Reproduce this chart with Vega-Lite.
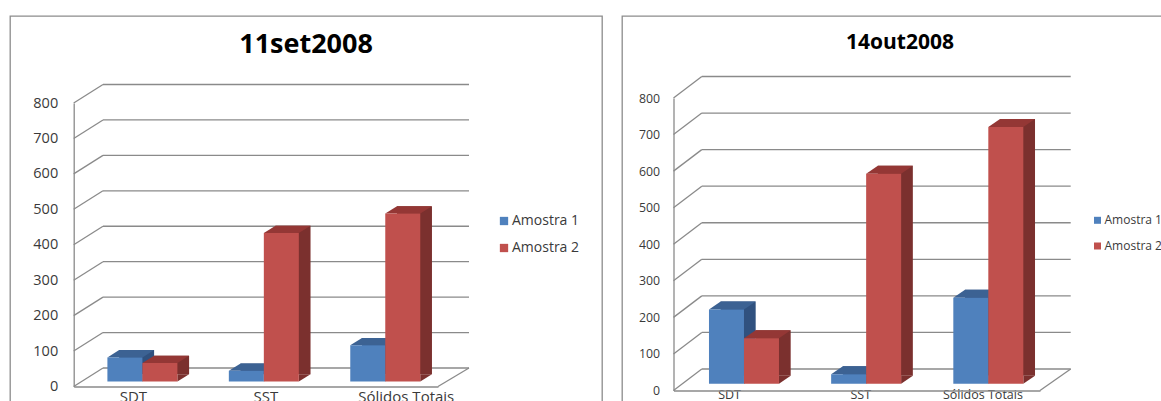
{
  "$schema": "https://vega.github.io/schema/vega-lite/v6.json",
  "background": "white",
  "padding": {"left": 9, "top": 15, "right": 0, "bottom": 0},
  "spacing": 18,
  "config": {
    "view": {"stroke": "#8c8c8c", "strokeWidth": 1.3},
    "font": "Open Sans",
    "axis": {"ticks": false, "tickSize": 0, "grid": false, "domainColor": "#8a8a8a", "domainWidth": 1.3, "labelColor": "#3a3a3a", "labelFont": "Open Sans", "labelOverlap": false}
  },
  "datasets": {
    "medidas": [
      {"data": "11set2008", "categoria": "SDT", "amostra": "Amostra 1", "valor": 68},
      {"data": "11set2008", "categoria": "SDT", "amostra": "Amostra 2", "valor": 52},
      {"data": "11set2008", "categoria": "SST", "amostra": "Amostra 1", "valor": 30},
      {"data": "11set2008", "categoria": "SST", "amostra": "Amostra 2", "valor": 419},
      {"data": "11set2008", "categoria": "Sólidos Totais", "amostra": "Amostra 1", "valor": 102},
      {"data": "11set2008", "categoria": "Sólidos Totais", "amostra": "Amostra 2", "valor": 474},
      {"data": "14out2008", "categoria": "SDT", "amostra": "Amostra 1", "valor": 203},
      {"data": "14out2008", "categoria": "SDT", "amostra": "Amostra 2", "valor": 124},
      {"data": "14out2008", "categoria": "SST", "amostra": "Amostra 1", "valor": 26},
      {"data": "14out2008", "categoria": "SST", "amostra": "Amostra 2", "valor": 574},
      {"data": "14out2008", "categoria": "Sólidos Totais", "amostra": "Amostra 1", "valor": 235},
      {"data": "14out2008", "categoria": "Sólidos Totais", "amostra": "Amostra 2", "valor": 702}
    ],
    "grade": [
      {"v": 0}, {"v": 100}, {"v": 200}, {"v": 300}, {"v": 400},
      {"v": 500}, {"v": 600}, {"v": 700}, {"v": 800}
    ]
  },
  "resolve": {"scale": {"color": "independent"}, "legend": {"color": "independent"}},
  "hconcat": [
    {
      "width": 592,
      "height": 386,
      "resolve": {"scale": {"xOffset": "independent"}},
      "layer": [
        {
          "data": {"name": "grade"},
          "mark": {"type": "rule", "color": "#8a8a8a", "strokeWidth": 1.3, "xOffset": 29.3, "x2Offset": 31, "yOffset": -18.5},
          "encoding": {
            "x": {"datum": "SDT", "type": "nominal", "bandPosition": 0, "title": null,
                  "scale": {"domain": ["SDT", "SST", "Sólidos Totais"], "range": [63.7, 428], "paddingInner": 0, "paddingOuter": 0},
                  "axis": {"orient": "bottom", "offset": -15.5, "labelFontSize": 15, "labelPadding": 3, "labelAngle": 0,
                           "labelOffset": {"condition": [{"test": "datum.value === 'SST'", "value": 10}, {"test": "datum.value === 'Sólidos Totais'", "value": 29}], "value": -1}}},
            "x2": {"datum": "Sólidos Totais", "bandPosition": 1},
            "y": {"field": "v", "type": "quantitative", "title": null,
                  "scale": {"domain": [0, 800], "range": [370.5, 87], "nice": false},
                  "axis": {"orient": "left", "offset": -63.7, "values": [0, 100, 200, 300, 400, 500, 600, 700, 800], "labelFontSize": 14.5, "labelPadding": 16}}
          }
        },
        {
          "data": {"name": "grade"},
          "mark": {"type": "rule", "color": "#8a8a8a", "strokeWidth": 1.3, "x2Offset": 29.3, "y2Offset": -18.5},
          "encoding": {
            "x": {"datum": "SDT", "type": "nominal", "bandPosition": 0, "title": null},
            "x2": {"datum": "SDT", "bandPosition": 0},
            "y": {"field": "v", "type": "quantitative", "title": null},
            "y2": {"field": "v"}
          }
        },
        {
          "data": {"name": "grade"},
          "transform": [{"filter": "datum.v === 0"}],
          "mark": {"type": "rule", "color": "#8a8a8a", "strokeWidth": 1.3, "x2Offset": 31, "y2Offset": -18.5},
          "encoding": {
            "x": {"datum": "Sólidos Totais", "type": "nominal", "bandPosition": 1, "title": null},
            "x2": {"datum": "Sólidos Totais", "bandPosition": 1},
            "y": {"field": "v", "type": "quantitative", "title": null},
            "y2": {"field": "v"}
          }
        },
        {
          "data": {"name": "grade"},
          "transform": [{"filter": "datum.v === 800"}],
          "mark": {"type": "text", "text": "11set2008", "font": "Open Sans", "fontSize": 27, "fontWeight": "bold", "color": "#000000", "align": "center", "baseline": "middle", "dx": 50.2, "dy": -58},
          "encoding": {
            "x": {"datum": "SST", "type": "nominal", "title": null},
            "y": {"field": "v", "type": "quantitative", "title": null}
          }
        },
        {
          "data": {"name": "medidas"},
          "transform": [{"filter": {"field": "data", "equal": "11set2008"}}],
          "mark": {"type": "bar", "yOffset": -12.3, "y2Offset": -12.3},
          "encoding": {
            "x": {"field": "categoria", "type": "nominal", "title": null},
            "xOffset": {"field": "amostra", "type": "nominal", "scale": {"type": "band", "domain": ["Amostra 1", "Amostra 2"], "range": [45.4, 115.4], "paddingInner": 0, "paddingOuter": 0}},
            "y": {"field": "valor", "type": "quantitative", "title": null},
            "color": {"condition": {"test": "datum.amostra === 'Amostra 1'", "value": "#30517f"}, "value": "#7b302e"}
          }
        },
        {
          "data": {"name": "medidas"},
          "transform": [{"filter": {"field": "data", "equal": "11set2008"}}],
          "mark": {"type": "point", "shape": "M-1,-0.624L-1,0.624L1,-0.624Z", "size": 136.9, "filled": true, "opacity": 1, "strokeWidth": 0, "yOffset": -8.65},
          "encoding": {
            "x": {"field": "categoria", "type": "nominal", "title": null},
            "xOffset": {"field": "amostra", "type": "nominal", "scale": {"type": "band", "domain": ["Amostra 1", "Amostra 2"], "range": [57.05, 127.05], "paddingInner": 0, "paddingOuter": 0}},
            "y": {"datum": 0, "type": "quantitative", "title": null},
            "color": {"condition": {"test": "datum.amostra === 'Amostra 1'", "value": "#30517f"}, "value": "#7b302e"}
          }
        },
        {
          "data": {"name": "medidas"},
          "transform": [{"filter": {"field": "data", "equal": "11set2008"}}],
          "mark": {"type": "point", "shape": "M-1,0.156L0.499,0.156L1,-0.156L-0.499,-0.156Z", "size": 2181, "filled": true, "opacity": 1, "strokeWidth": 0, "yOffset": -8.65},
          "encoding": {
            "x": {"field": "categoria", "type": "nominal", "title": null},
            "xOffset": {"field": "amostra", "type": "nominal", "scale": {"type": "band", "domain": ["Amostra 1", "Amostra 2"], "range": [39.55, 109.55], "paddingInner": 0, "paddingOuter": 0}},
            "y": {"field": "valor", "type": "quantitative", "title": null},
            "color": {"condition": {"test": "datum.amostra === 'Amostra 1'", "value": "#3c6293"}, "value": "#943735"}
          }
        },
        {
          "data": {"name": "medidas"},
          "transform": [{"filter": {"field": "data", "equal": "11set2008"}}],
          "mark": {"type": "bar", "yOffset": -5, "y2Offset": -5},
          "encoding": {
            "x": {"field": "categoria", "type": "nominal", "title": null},
            "xOffset": {"field": "amostra", "type": "nominal", "scale": {"type": "band", "domain": ["Amostra 1", "Amostra 2"], "range": [33.7, 103.7], "paddingInner": 0, "paddingOuter": 0}},
            "y": {"field": "valor", "type": "quantitative", "title": null},
            "color": {"field": "amostra", "type": "nominal",
                      "scale": {"domain": ["Amostra 1", "Amostra 2"], "range": ["#4f81bd", "#c0504d"]},
                      "legend": {"orient": "none", "legendX": 487, "legendY": 198, "title": null, "symbolType": "square", "symbolSize": 69, "symbolStrokeWidth": 0, "labelFontSize": 14, "labelFont": "Open Sans", "labelColor": "#3a3a3a", "rowPadding": 13, "padding": 0, "labelOffset": 1}}
          }
        }
      ]
    },
    {
      "width": 542,
      "height": 386,
      "resolve": {"scale": {"xOffset": "independent"}},
      "layer": [
        {
          "data": {"name": "grade"},
          "mark": {"type": "rule", "color": "#8a8a8a", "strokeWidth": 1.3, "xOffset": 28.3, "x2Offset": 30.7, "yOffset": -21.5},
          "encoding": {
            "x": {"datum": "SDT", "type": "nominal", "bandPosition": 0, "title": null,
                  "scale": {"domain": ["SDT", "SST", "Sólidos Totais"], "range": [51.5, 418], "paddingInner": 0, "paddingOuter": 0},
                  "axis": {"orient": "bottom", "offset": -11.5, "labelFontSize": 12.5, "labelPadding": -2, "labelAngle": 0,
                           "labelOffset": {"condition": [{"test": "datum.value === 'SDT'", "value": -5}], "value": 4}}},
            "x2": {"datum": "Sólidos Totais", "bandPosition": 1},
            "y": {"field": "v", "type": "quantitative", "title": null,
                  "scale": {"domain": [0, 800], "range": [374.5, 82], "nice": false},
                  "axis": {"orient": "left", "offset": -51.5, "values": [0, 100, 200, 300, 400, 500, 600, 700, 800], "labelFontSize": 12.3, "labelPadding": 14}}
          }
        },
        {
          "data": {"name": "grade"},
          "mark": {"type": "rule", "color": "#8a8a8a", "strokeWidth": 1.3, "x2Offset": 28.3, "y2Offset": -21.5},
          "encoding": {
            "x": {"datum": "SDT", "type": "nominal", "bandPosition": 0, "title": null},
            "x2": {"datum": "SDT", "bandPosition": 0},
            "y": {"field": "v", "type": "quantitative", "title": null},
            "y2": {"field": "v"}
          }
        },
        {
          "data": {"name": "grade"},
          "transform": [{"filter": "datum.v === 0"}],
          "mark": {"type": "rule", "color": "#8a8a8a", "strokeWidth": 1.3, "x2Offset": 30.7, "y2Offset": -21.5},
          "encoding": {
            "x": {"datum": "Sólidos Totais", "type": "nominal", "bandPosition": 1, "title": null},
            "x2": {"datum": "Sólidos Totais", "bandPosition": 1},
            "y": {"field": "v", "type": "quantitative", "title": null},
            "y2": {"field": "v"}
          }
        },
        {
          "data": {"name": "grade"},
          "transform": [{"filter": "datum.v === 800"}],
          "mark": {"type": "text", "text": "14out2008", "font": "Open Sans", "fontSize": 21, "fontWeight": "bold", "color": "#000000", "align": "center", "baseline": "middle", "dx": 43.25, "dy": -55},
          "encoding": {
            "x": {"datum": "SST", "type": "nominal", "title": null},
            "y": {"field": "v", "type": "quantitative", "title": null}
          }
        },
        {
          "data": {"name": "medidas"},
          "transform": [{"filter": {"field": "data", "equal": "14out2008"}}],
          "mark": {"type": "bar", "yOffset": -14.8, "y2Offset": -14.8},
          "encoding": {
            "x": {"field": "categoria", "type": "nominal", "title": null},
            "xOffset": {"field": "amostra", "type": "nominal", "scale": {"type": "band", "domain": ["Amostra 1", "Amostra 2"], "range": [47.18, 117.18], "paddingInner": 0, "paddingOuter": 0}},
            "y": {"field": "valor", "type": "quantitative", "title": null},
            "color": {"condition": {"test": "datum.amostra === 'Amostra 1'", "value": "#30517f"}, "value": "#7b302e"}
          }
        },
        {
          "data": {"name": "medidas"},
          "transform": [{"filter": {"field": "data", "equal": "14out2008"}}],
          "mark": {"type": "point", "shape": "M-1,-0.684L-1,0.684L1,-0.684Z", "size": 136.9, "filled": true, "opacity": 1, "strokeWidth": 0, "yOffset": -10.8},
          "encoding": {
            "x": {"field": "categoria", "type": "nominal", "title": null},
            "xOffset": {"field": "amostra", "type": "nominal", "scale": {"type": "band", "domain": ["Amostra 1", "Amostra 2"], "range": [58.83, 128.83], "paddingInner": 0, "paddingOuter": 0}},
            "y": {"datum": 0, "type": "quantitative", "title": null},
            "color": {"condition": {"test": "datum.amostra === 'Amostra 1'", "value": "#30517f"}, "value": "#7b302e"}
          }
        },
        {
          "data": {"name": "medidas"},
          "transform": [{"filter": {"field": "data", "equal": "14out2008"}}],
          "mark": {"type": "point", "shape": "M-1,0.171L0.499,0.171L1,-0.171L-0.499,-0.171Z", "size": 2181, "filled": true, "opacity": 1, "strokeWidth": 0, "yOffset": -10.8},
          "encoding": {
            "x": {"field": "categoria", "type": "nominal", "title": null},
            "xOffset": {"field": "amostra", "type": "nominal", "scale": {"type": "band", "domain": ["Amostra 1", "Amostra 2"], "range": [41.33, 111.33], "paddingInner": 0, "paddingOuter": 0}},
            "y": {"field": "valor", "type": "quantitative", "title": null},
            "color": {"condition": {"test": "datum.amostra === 'Amostra 1'", "value": "#3c6293"}, "value": "#943735"}
          }
        },
        {
          "data": {"name": "medidas"},
          "transform": [{"filter": {"field": "data", "equal": "14out2008"}}],
          "mark": {"type": "bar", "yOffset": -6.8, "y2Offset": -6.8},
          "encoding": {
            "x": {"field": "categoria", "type": "nominal", "title": null},
            "xOffset": {"field": "amostra", "type": "nominal", "scale": {"type": "band", "domain": ["Amostra 1", "Amostra 2"], "range": [35.48, 105.48], "paddingInner": 0, "paddingOuter": 0}},
            "y": {"field": "valor", "type": "quantitative", "title": null},
            "color": {"field": "amostra", "type": "nominal",
                      "scale": {"domain": ["Amostra 1", "Amostra 2"], "range": ["#4f81bd", "#c0504d"]},
                      "legend": {"orient": "none", "legendX": 469.5, "legendY": 198.3, "title": null, "symbolType": "square", "symbolSize": 49, "symbolStrokeWidth": 0, "labelFontSize": 12, "labelFont": "Open Sans", "labelColor": "#3a3a3a", "rowPadding": 13.7, "padding": 0, "labelOffset": 1}}
          }
        }
      ]
    }
  ]
}
